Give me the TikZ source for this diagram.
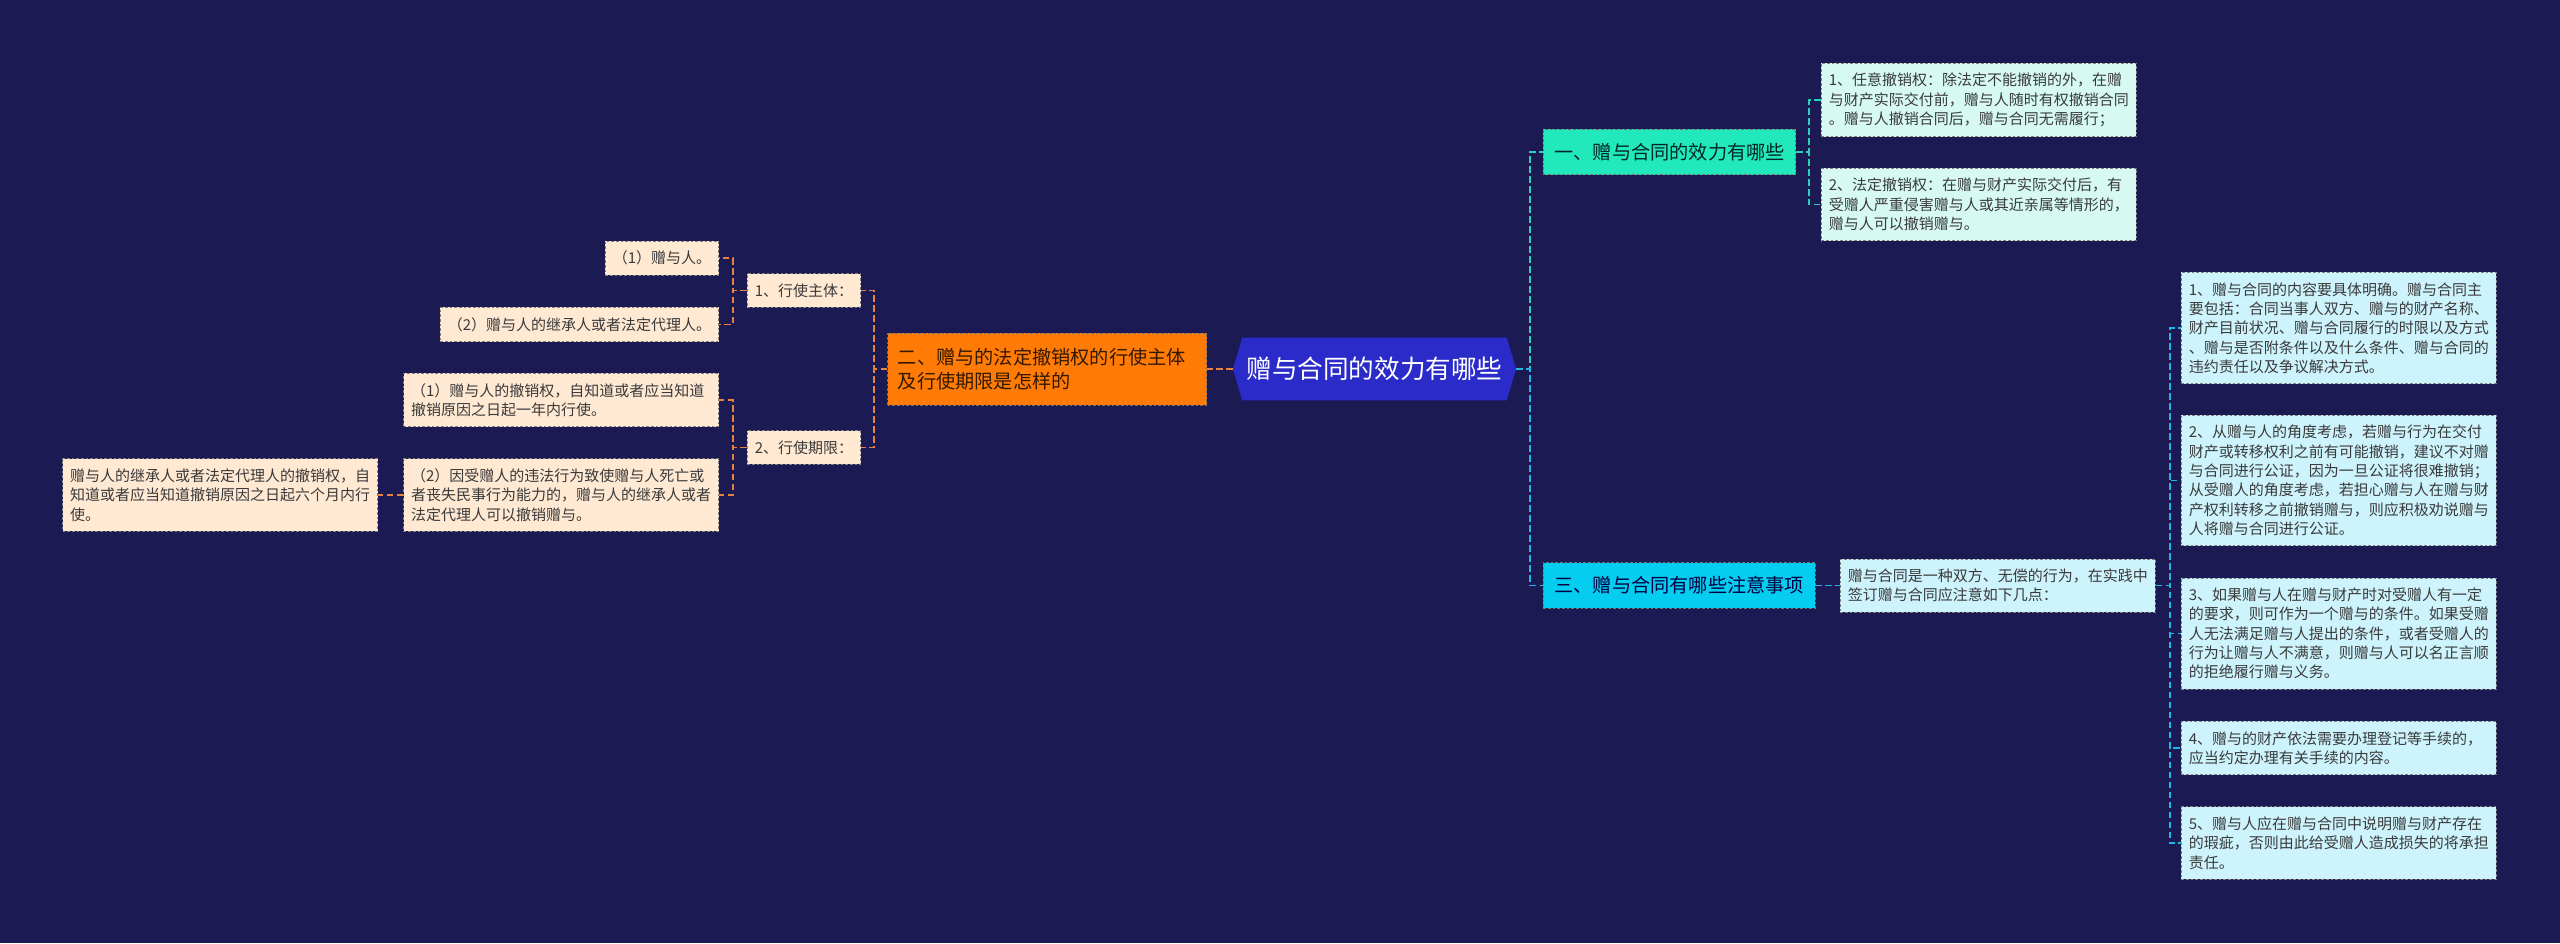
\documentclass[tikz,border=0pt]{standalone}
\usepackage{fontspec}
\setmainfont{Noto Sans CJK SC}
\usetikzlibrary{backgrounds}

\definecolor{bgnavy}{HTML}{1B1A52}
\definecolor{rootblue}{HTML}{2B2BC9}
\definecolor{tealmain}{HTML}{22E9BC}
\definecolor{tealpale}{HTML}{D6FAF2}
\definecolor{tealline}{HTML}{2CCFBA}
\definecolor{cyanmain}{HTML}{05CDF0}
\definecolor{cyanpale}{HTML}{CDF3FC}
\definecolor{cyanline}{HTML}{22B5E5}
\definecolor{orgmain}{HTML}{FF7B05}
\definecolor{orgpale}{HTML}{FFE9D3}
\definecolor{orgline}{HTML}{E9823E}
\definecolor{inkgray}{HTML}{3A3A3A}

\begin{document}
\begin{tikzpicture}[
    x=0.75pt, y=-0.75pt,
    hub/.style={rectangle, minimum width=198pt, minimum height=46.5pt, inner sep=0pt,
                text=white, font=\fontsize{19.2pt}{23pt}\selectfont},
    lvl/.style={rectangle, draw=black!55, dash pattern=on 2pt off 1.5pt, line width=0.6pt,
                inner xsep=8.25pt, minimum height=34pt,
                font=\fontsize{14.4pt}{18.3pt}\selectfont},
    leaf/.style={rectangle, draw=black!50, dash pattern=on 2pt off 1.5pt, line width=0.6pt,
                 inner xsep=5.6pt, inner ysep=7.4pt, align=left, text=inkgray,
                 font=\fontsize{11.25pt}{14.5pt}\selectfont},
    wleaf/.style={leaf, text width=225pt},
    link/.style={dash pattern=on 5pt off 2.5pt, line width=1.4pt}
]
  \useasboundingbox (0,0) rectangle (2560,943);

  \node[hub] (root) at (1374.5,369) {赠与合同的效力有哪些};

  \node[lvl, fill=tealmain, text=black!70!teal, anchor=west] (eff) at (1543,152) {一、赠与合同的效力有哪些};
  \node[wleaf, fill=tealpale, anchor=west] (rev1) at (1821,100)
       {1、任意撤销权：除法定不能撤销的外，在赠\\与财产实际交付前，赠与人随时有权撤销合同\\。赠与人撤销合同后，赠与合同无需履行；};
  \node[wleaf, fill=tealpale, anchor=west] (rev2) at (1821,204.5)
       {2、法定撤销权：在赠与财产实际交付后，有\\受赠人严重侵害赠与人或其近亲属等情形的，\\赠与人可以撤销赠与。};

  \node[lvl, fill=cyanmain, text=black!75!blue, anchor=west] (note) at (1543,585.5) {三、赠与合同有哪些注意事项};
  \node[wleaf, fill=cyanpale, anchor=west] (intro) at (1840,585.5)
       {赠与合同是一种双方、无偿的行为，在实践中\\签订赠与合同应注意如下几点：};
  \node[wleaf, fill=cyanpale, anchor=west] (pt1) at (2181,328)
       {1、赠与合同的内容要具体明确。赠与合同主\\要包括：合同当事人双方、赠与的财产名称、\\财产目前状况、赠与合同履行的时限以及方式\\、赠与是否附条件以及什么条件、赠与合同的\\违约责任以及争议解决方式。};
  \node[wleaf, fill=cyanpale, anchor=west] (pt2) at (2181,480.5)
       {2、从赠与人的角度考虑，若赠与行为在交付\\财产或转移权利之前有可能撤销，建议不对赠\\与合同进行公证，因为一旦公证将很难撤销；\\从受赠人的角度考虑，若担心赠与人在赠与财\\产权利转移之前撤销赠与，则应积极劝说赠与\\人将赠与合同进行公证。};
  \node[wleaf, fill=cyanpale, anchor=west] (pt3) at (2181,633.5)
       {3、如果赠与人在赠与财产时对受赠人有一定\\的要求，则可作为一个赠与的条件。如果受赠\\人无法满足赠与人提出的条件，或者受赠人的\\行为让赠与人不满意，则赠与人可以名正言顺\\的拒绝履行赠与义务。};
  \node[wleaf, fill=cyanpale, anchor=west] (pt4) at (2181,748)
       {4、赠与的财产依法需要办理登记等手续的，\\应当约定办理有关手续的内容。};
  \node[wleaf, fill=cyanpale, anchor=west] (pt5) at (2181,843)
       {5、赠与人应在赠与合同中说明赠与财产存在\\的瑕疵，否则由此给受赠人造成损失的将承担\\责任。};

  \node[lvl, fill=orgmain, text=black!80!orange, anchor=east, text width=224pt, align=left,
        inner xsep=7.6pt, minimum height=54pt] (subj) at (1207,369)
       {二、赠与的法定撤销权的行使主体\\及行使期限是怎样的};
  \node[leaf, fill=orgpale, anchor=east] (who) at (861,290.5) {1、行使主体：};
  \node[leaf, fill=orgpale, anchor=east] (term) at (861,447.5) {2、行使期限：};
  \node[leaf, fill=orgpale, anchor=east] (who1) at (719,258) {（1）赠与人。};
  \node[leaf, fill=orgpale, anchor=east] (who2) at (719,324.5) {（2）赠与人的继承人或者法定代理人。};
  \node[wleaf, fill=orgpale, anchor=east] (term1) at (719,400)
       {（1）赠与人的撤销权，自知道或者应当知道\\撤销原因之日起一年内行使。};
  \node[wleaf, fill=orgpale, anchor=east] (term2) at (719,495)
       {（2）因受赠人的违法行为致使赠与人死亡或\\者丧失民事行为能力的，赠与人的继承人或者\\法定代理人可以撤销赠与。};
  \node[wleaf, fill=orgpale, anchor=east] (heir) at (378,495)
       {赠与人的继承人或者法定代理人的撤销权，自\\知道或者应当知道撤销原因之日起六个月内行\\使。};

  \begin{scope}[on background layer]
    \fill[bgnavy] (0,0) rectangle (2560,943);
    \fill[rootblue] ([xshift=-7pt]root.west) -- (root.north west) -- (root.north east)
         -- ([xshift=7pt]root.east) -- (root.south east) -- (root.south west) -- cycle;
  \end{scope}

  \draw[link, tealline] ([xshift=7pt]root.east) -- ++(14,0) |- (eff.west);
  \draw[link, cyanline] ([xshift=7pt]root.east) -- ++(14,0) |- (note.west);
  \foreach \r in {rev1,rev2}
    \draw[link, tealline] (eff.east) -- ++(13,0) |- (\r.west);
  \draw[link, cyanline] (note.east) -- (intro.west);
  \foreach \p in {pt1,pt2,pt3,pt4,pt5}
    \draw[link, cyanline] (intro.east) -- ++(14,0) |- (\p.west);

  \draw[link, orgline] ([xshift=-7pt]root.west) -- (subj.east);
  \foreach \k in {who,term}
    \draw[link, orgline] (subj.west) -- ++(-13,0) |- (\k.east);
  \foreach \k in {who1,who2}
    \draw[link, orgline] (who.west) -- ++(-14,0) |- (\k.east);
  \foreach \k in {term1,term2}
    \draw[link, orgline] (term.west) -- ++(-14,0) |- (\k.east);
  \draw[link, orgline] (term2.west) -- (heir.east);
\end{tikzpicture}
\end{document}
